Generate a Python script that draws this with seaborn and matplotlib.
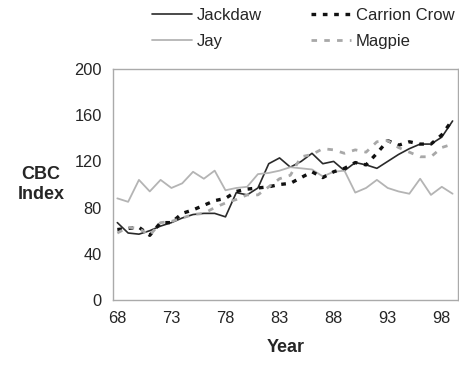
import matplotlib
matplotlib.use("Agg")
import matplotlib.pyplot as plt
import seaborn as sns
import pandas as pd

years = list(range(68, 100))
jackdaw = [67, 58, 57, 60, 64, 67, 71, 74, 75, 75, 72, 93, 91, 97, 118, 123,
           115, 120, 127, 118, 120, 112, 119, 117, 114, 120, 126, 131, 135, 135, 141, 155]
jay = [88, 85, 104, 94, 104, 97, 101, 111, 105, 112, 95, 97, 98, 109, 110, 112,
       115, 114, 113, 107, 111, 112, 93, 97, 104, 97, 94, 92, 105, 91, 98, 92]
carrion_crow = [61, 62, 63, 56, 67, 67, 75, 78, 82, 86, 88, 94, 96, 97, 98, 100,
                101, 106, 111, 106, 111, 114, 119, 117, 127, 138, 134, 137, 135, 135, 143, 156]
magpie = [58, 63, 62, 56, 67, 68, 71, 74, 75, 80, 84, 87, 91, 91, 98, 105,
          108, 124, 126, 131, 130, 127, 130, 128, 137, 138, 132, 128, 124, 124, 132, 135]

series_names = ["Jackdaw", "Jay", "Carrion Crow", "Magpie"]
y_ticks = [0, 40, 80, 120, 160, 200]
x_ticks = [68, 73, 78, 83, 88, 93, 98]

sns.set_style("white")
plt.rcParams['font.family'] = ['Liberation Sans', 'DejaVu Sans']

fig = plt.figure(figsize=(4.6, 3.66), dpi=100)
ax = fig.add_axes([113/460, 1 - 300/366, 345/460, 231/366])

styles = {
    "Jackdaw": dict(color="#2a2a2a", lw=1.2, ls="-"),
    "Jay": dict(color="#b4b4b4", lw=1.3, ls="-"),
    "Carrion Crow": dict(color="#111111", lw=2.4, ls=(0, (1.4, 2.0))),
    "Magpie": dict(color="#a8a8a8", lw=2.0, ls=(0, (2.0, 2.6))),
}
values = {"Jackdaw": jackdaw, "Jay": jay, "Carrion Crow": carrion_crow, "Magpie": magpie}

for name in series_names:
    df = pd.DataFrame({"Year": years, "CBC Index": values[name]})
    st = styles[name]
    sns.lineplot(data=df, x="Year", y="CBC Index", ax=ax, color=st["color"],
                 linewidth=st["lw"], linestyle=st["ls"], label=name)

ax.set_xlim(67.6, 99.5)
ax.set_ylim(0, 200)
ax.set_xticks(x_ticks)
ax.set_yticks(y_ticks)
ax.tick_params(axis="both", length=0, labelsize=11.8, pad=8)
for sp in ax.spines.values():
    sp.set_color("#aaaaaa")
    sp.set_linewidth(1.0)

ax.set_xlabel("Year", fontsize=13, fontweight="bold", labelpad=9)
ax.set_ylabel("CBC\nIndex", fontsize=13, fontweight="bold", rotation=0,
              ha="center", va="center", labelpad=24)

handles, labels = ax.get_legend_handles_labels()
ax.legend_.remove()
fig.legend(handles, labels, ncol=2, loc="upper left", bbox_to_anchor=(0.298, 1.02),
           frameon=False, fontsize=12, handlelength=2.4, handletextpad=0.3,
           columnspacing=2.9, labelspacing=0.65)

fig.savefig("out.png", dpi=100)
